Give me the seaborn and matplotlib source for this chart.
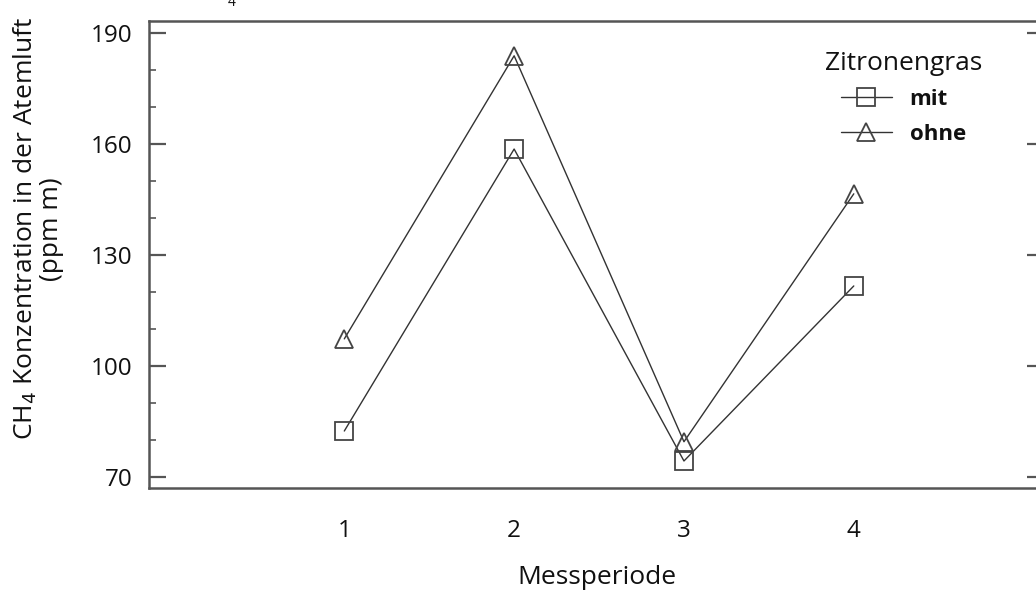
import matplotlib
matplotlib.use("Agg")
import matplotlib.pyplot as plt
import numpy as np
import pandas as pd
import seaborn as sns

perioden = [1, 2, 3, 4]
mit_werte = [82.4, 158.6, 74.3, 121.6]
ohne_werte = [107.3, 183.8, 79.5, 146.5]
gruppen = ["mit", "ohne"]
y_major = [70, 100, 130, 160, 190]
y_minor = [80, 90, 110, 120, 140, 150, 170, 180]

df = pd.DataFrame({
    "Messperiode": perioden * 2,
    "CH4": mit_werte + ohne_werte,
    "Zitronengras": [gruppen[0]] * 4 + [gruppen[1]] * 4,
})

sns.set_style("ticks")
plt.rcParams["font.family"] = ["Open Sans", "DejaVu Sans"]
plt.rcParams["text.color"] = "#111111"
plt.rcParams["axes.labelcolor"] = "#111111"
plt.rcParams["xtick.color"] = "#111111"
plt.rcParams["ytick.color"] = "#111111"
plt.rcParams["ytick.direction"] = "in"

fig = plt.figure(figsize=(10.36, 5.9), dpi=100)
ax = fig.add_axes([149 / 1036, 1 - 488 / 590, 895 / 1036, 467 / 590])

sns.lineplot(data=df, x="Messperiode", y="CH4", hue="Zitronengras", style="Zitronengras",
             markers={"mit": "s", "ohne": "^"}, dashes=False,
             palette={"mit": "#333333", "ohne": "#333333"},
             markersize=12.5, markerfacecolor="none", markeredgecolor="#444444",
             markeredgewidth=1.3, linewidth=1.0, ax=ax)

ax.set_xlim(-0.15, 5.12)
ax.set_ylim(67.0, 193.2)
ax.set_xticks(perioden)
ax.set_yticks(y_major)
ax.set_yticks(y_minor, minor=True)
ax.tick_params(axis="y", which="major", direction="in", length=12, width=1.6,
               color="#555555", labelsize=17.5, right=True, pad=12)
ax.tick_params(axis="y", which="minor", direction="in", length=5, width=1.2,
               color="#555555", right=True)
ax.tick_params(axis="x", length=0, labelsize=17.5, pad=22)
for s in ax.spines.values():
    s.set_linewidth(1.8)
    s.set_color("#555555")

ax.set_xlabel("Messperiode", fontsize=19, labelpad=16)
ax.set_ylabel("CH$_4$ Konzentration in der Atemluft\n(ppm m)", fontsize=19,
              linespacing=1.0)
ax.yaxis.set_label_coords(-0.095, 0.555)

leg = ax.legend(title="Zitronengras", frameon=False, loc="upper left",
                bbox_to_anchor=(0.745, 0.955), fontsize=16, title_fontsize=19,
                handlelength=2.3, handletextpad=0.8, labelspacing=0.6, markerscale=1.0,
                borderaxespad=0)
for t in leg.get_texts():
    t.set_fontweight("bold")

fig.text(232 / 1036, 1 - 3 / 590, "4", fontsize=10, ha="center", va="center")

fig.savefig("out.png", dpi=100)
